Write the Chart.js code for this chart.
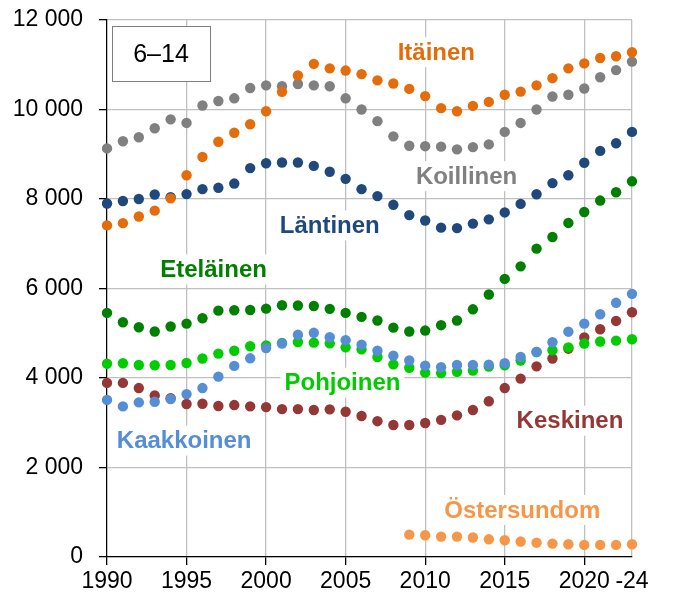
<!DOCTYPE html>
<html>
<head>
<meta charset="utf-8">
<script src="https://cdn.jsdelivr.net/npm/chart.js@4"></script>
<style>
  body { margin: 0; background: #fff; }
  canvas { display: block; }
</style>
</head>
<body>
<canvas id="chart" width="674" height="599"></canvas>
<script>
// years 1990..2023, last point is labelled "-24"
const years = [];
for (let y = 1990; y <= 2023; y++) years.push(String(y));

const itainen = [7410, 7460, 7610, 7740, 8015, 8530, 8940, 9280, 9480, 9670, 9960, 10395, 10760, 11020, 10920, 10870, 10790, 10650, 10580, 10460, 10300, 10030, 9960, 10080, 10170, 10330, 10400, 10540, 10700, 10920, 11030, 11150, 11190, 11280];
const koillinen = [9130, 9290, 9380, 9580, 9780, 9700, 10090, 10190, 10250, 10480, 10540, 10520, 10570, 10540, 10520, 10250, 10000, 9740, 9400, 9190, 9180, 9170, 9110, 9160, 9220, 9500, 9700, 10000, 10290, 10330, 10470, 10720, 10880, 11070];
const lantinen = [7900, 7955, 8000, 8100, 8040, 8110, 8220, 8250, 8345, 8690, 8800, 8815, 8815, 8740, 8610, 8450, 8220, 8065, 7870, 7640, 7520, 7360, 7350, 7450, 7545, 7700, 7890, 8105, 8355, 8530, 8810, 9075, 9245, 9500];
const etelainen = [5455, 5245, 5135, 5040, 5150, 5215, 5335, 5505, 5515, 5520, 5550, 5625, 5620, 5610, 5545, 5455, 5365, 5285, 5125, 5040, 5060, 5180, 5285, 5535, 5865, 6215, 6495, 6890, 7150, 7465, 7710, 7965, 8150, 8395];
const kaakkoinen = [3510, 3365, 3455, 3470, 3530, 3640, 3775, 4030, 4270, 4440, 4670, 4770, 4965, 5010, 4910, 4845, 4745, 4610, 4500, 4390, 4275, 4240, 4290, 4290, 4300, 4330, 4470, 4580, 4800, 5035, 5215, 5425, 5680, 5880];
const pohjoinen = [4320, 4330, 4290, 4285, 4290, 4335, 4435, 4545, 4610, 4710, 4730, 4785, 4805, 4790, 4775, 4685, 4640, 4470, 4305, 4230, 4120, 4110, 4140, 4165, 4255, 4285, 4390, 4580, 4620, 4685, 4770, 4815, 4835, 4865];
const keskinen = [3890, 3890, 3775, 3610, 3550, 3420, 3425, 3375, 3395, 3365, 3350, 3305, 3305, 3285, 3300, 3245, 3150, 3035, 2950, 2950, 2995, 3065, 3165, 3285, 3480, 3775, 3985, 4260, 4435, 4655, 4905, 5090, 5275, 5470];
const ostersundom = [null, null, null, null, null, null, null, null, null, null, null, null, null, null, null, null, null, null, null, 500, 485, 455, 455, 435, 395, 375, 345, 320, 300, 285, 270, 270, 270, 285];

const seriesNames = ["Itäinen", "Koillinen", "Läntinen", "Eteläinen", "Kaakkoinen", "Pohjoinen", "Keskinen", "Östersundom"];
const seriesColors = ["#E46C0A", "#808080", "#1F497D", "#008000", "#558ED5", "#00CC00", "#953735", "#F79646"];
const seriesData = [itainen, koillinen, lantinen, etelainen, kaakkoinen, pohjoinen, keskinen, ostersundom];

// where the series names sit, in data units (year index, value)
const labelIdx = [20.7, 22.6, 14.0, 6.7, 4.85, 14.8, 29.1, 26.1];
const labelVal = [11280, 8510, 7410, 6425, 2600, 3895, 3045, 1050];

const ageGroup = "6–14";

function fmt(v) {
  return String(v).replace(/\B(?=(\d{3})+(?!\d))/g, " ");
}

const seriesLabels = {
  id: "seriesLabels",
  beforeDatasetsDraw(chart) {
    const ctx = chart.ctx;
    const x = chart.scales.x, y = chart.scales.y;
    ctx.save();
    ctx.font = "bold 24px 'Liberation Sans', Arial, sans-serif";
    ctx.textAlign = "center";
    ctx.textBaseline = "middle";
    seriesNames.forEach((name, i) => {
      const px = x.left + (x.right - x.left) * labelIdx[i] / (years.length - 1);
      const py = y.getPixelForValue(labelVal[i]);
      const w = ctx.measureText(name).width;
      ctx.fillStyle = "#fff";
      ctx.fillRect(px - w / 2 - 4, py - 15, w + 8, 30);
      ctx.fillStyle = seriesColors[i];
      ctx.fillText(name, px, py + 1);
    });

    // age group box
    const a = chart.chartArea;
    ctx.fillStyle = "#fff";
    ctx.fillRect(a.left + 5, a.top + 6, 98, 55);
    ctx.strokeStyle = "#7f7f7f";
    ctx.lineWidth = 1;
    ctx.strokeRect(a.left + 5.5, a.top + 6.5, 98, 55);
    ctx.fillStyle = "#000";
    ctx.font = "25px 'Liberation Sans', Arial, sans-serif";
    ctx.fillText(ageGroup, a.left + 54, a.top + 35);
    ctx.restore();
  }
};

const lastIdx = years.length - 1;

new Chart(document.getElementById("chart"), {
  type: "line",
  data: {
    labels: years,
    datasets: seriesData.map((d, i) => ({
      label: seriesNames[i],
      data: d,
      showLine: false,
      pointRadius: 5.2,
      pointHoverRadius: 5.2,
      pointBorderWidth: 0,
      pointBackgroundColor: seriesColors[i],
      borderColor: seriesColors[i],
      backgroundColor: seriesColors[i]
    }))
  },
  options: {
    responsive: false,
    animation: false,
    layout: { padding: { top: 20, right: 42, left: 0, bottom: 0 } },
    plugins: {
      legend: { display: false },
      tooltip: { enabled: false }
    },
    scales: {
      x: {
        offset: false,
        afterFit(s) { s.height = 42; },
        border: { color: "#000", width: 1.2 },
        grid: {
          color: (c) => (c.index % 5 === 0 || c.index === lastIdx) ? "#c0c0c0" : "rgba(0,0,0,0)",
          tickColor: (c) => (c.index % 5 === 0) ? "#000" : "rgba(0,0,0,0)",
          lineWidth: 1.3,
          tickLength: 8
        },
        ticks: {
          autoSkip: false,
          maxRotation: 0,
          padding: 3,
          color: "#000",
          font: { family: "'Liberation Sans', Arial, sans-serif", size: 23 },
          callback: (v, i) => i === lastIdx ? "-24" : (i % 5 === 0 ? years[i] : "")
        }
      },
      y: {
        min: 0,
        max: 12000,
        afterFit(s) { s.width = 107; s.paddingTop = 0; s.paddingBottom = 0; },
        border: { color: "#000", width: 1.2 },
        grid: {
          color: "#c0c0c0",
          tickColor: "#000",
          lineWidth: 1.3,
          tickLength: 8
        },
        ticks: {
          stepSize: 2000,
          padding: 16,
          color: "#000",
          font: { family: "'Liberation Sans', Arial, sans-serif", size: 23 },
          callback: (v) => fmt(v)
        }
      }
    }
  },
  plugins: [seriesLabels]
});
</script>
</body>
</html>
